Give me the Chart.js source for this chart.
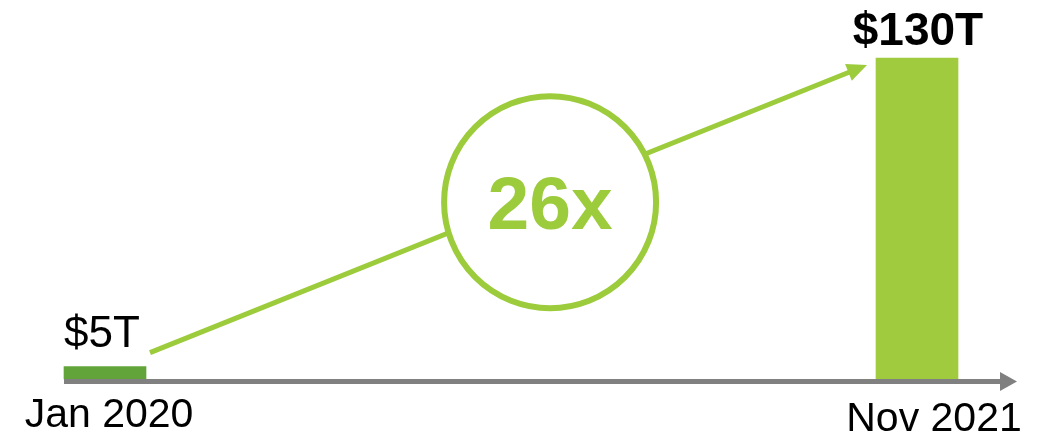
<!DOCTYPE html>
<html>
<head>
<meta charset="utf-8">
<script src="https://cdn.jsdelivr.net/npm/chart.js@4"></script>
<style>
  body { margin: 0; background: #fff; }
  canvas { display: block; }
</style>
</head>
<body>
<canvas id="growthChart" width="1051" height="437"></canvas>
<script>
var labels = ["Jan 2020", "Nov 2021"];
var values = [5, 130];
var valueLabels = ["$5T", "$130T"];
var multipleText = "26x";

var barColors = ["#62a43a", "#a1cb3f"];
var green = "#9ccb3b";
var axisGray = "#808080";
var fontName = "'Liberation Sans', Arial, sans-serif";

// axis arrow, trend arrow, circle and texts drawn on top of the bars
var overlay = {
  id: "overlay",
  afterDatasetsDraw: function(chart) {
    var c = chart.ctx;
    var xs = chart.scales.x, ys = chart.scales.y;
    var bars = chart.getDatasetMeta(0).data;
    var w = bars[0].width;
    var x0 = xs.getPixelForValue(0), x1 = xs.getPixelForValue(1);
    var base = ys.getPixelForValue(0);
    var top0 = ys.getPixelForValue(values[0]);
    var top1 = ys.getPixelForValue(values[1]);

    c.save();

    // x axis with arrow head
    var ay = base + 2.5;
    var aEnd = chart.width - 34;
    c.strokeStyle = axisGray;
    c.fillStyle = axisGray;
    c.lineWidth = 5;
    c.beginPath();
    c.moveTo(x0 - w / 2, ay);
    c.lineTo(aEnd - 16, ay);
    c.stroke();
    c.beginPath();
    c.moveTo(aEnd - 17, ay - 9.5);
    c.lineTo(aEnd, ay);
    c.lineTo(aEnd - 17, ay + 9.5);
    c.closePath();
    c.fill();

    // trend arrow
    var sx = x0 + w / 2 + 4, sy = top0 - 14;
    var ex = x1 - w / 2 - 9, ey = top1 + 7;
    var ang = Math.atan2(ey - sy, ex - sx);
    var hl = 20, hw = 9;
    c.strokeStyle = green;
    c.fillStyle = green;
    c.lineWidth = 5;
    c.beginPath();
    c.moveTo(sx, sy);
    c.lineTo(ex - hl * 0.8 * Math.cos(ang), ey - hl * 0.8 * Math.sin(ang));
    c.stroke();
    c.beginPath();
    c.moveTo(ex, ey);
    c.lineTo(ex - hl * Math.cos(ang) + hw * Math.sin(ang), ey - hl * Math.sin(ang) - hw * Math.cos(ang));
    c.lineTo(ex - hl * Math.cos(ang) - hw * Math.sin(ang), ey - hl * Math.sin(ang) + hw * Math.cos(ang));
    c.closePath();
    c.fill();

    // circle with the multiple
    var t = 0.558;
    var cx = sx + t * (ex - sx), cy = sy + t * (ey - sy) + 10;
    c.beginPath();
    c.arc(cx, cy, 106, 0, Math.PI * 2);
    c.fillStyle = "#fff";
    c.fill();
    c.lineWidth = 6;
    c.strokeStyle = green;
    c.stroke();
    c.fillStyle = green;
    c.font = "bold 75px " + fontName;
    c.textAlign = "center";
    c.textBaseline = "alphabetic";
    c.fillText(multipleText, cx, cy + 27);

    // value labels
    c.fillStyle = "#000";
    c.font = "44px " + fontName;
    c.textAlign = "left";
    c.fillText(valueLabels[0], x0 - w / 2, top0 - 20);
    c.font = "bold 46px " + fontName;
    c.textAlign = "center";
    c.fillText(valueLabels[1], x1 + 1, top1 - 13);

    // category labels
    c.font = "41px " + fontName;
    c.fillText(labels[0], x0 + 4, base + 48);
    c.fillText(labels[1], x1 + 17, base + 52);

    c.restore();
  }
};

var ctx = document.getElementById("growthChart").getContext("2d");
var growthChart = new Chart(ctx, {
  type: "bar",
  data: {
    labels: labels,
    datasets: [
      {
        data: values,
        backgroundColor: barColors,
        borderWidth: 0,
        barThickness: 82,
        clip: false
      }
    ]
  },
  options: {
    responsive: false,
    animation: false,
    devicePixelRatio: 1,
    layout: { padding: { left: 105, right: 134, top: 58, bottom: 58 } },
    plugins: {
      legend: { display: false },
      tooltip: { enabled: false }
    },
    scales: {
      x: { display: false, offset: false },
      y: { display: false, min: 0, max: 130 }
    }
  },
  plugins: [overlay]
});
</script>
</body>
</html>
